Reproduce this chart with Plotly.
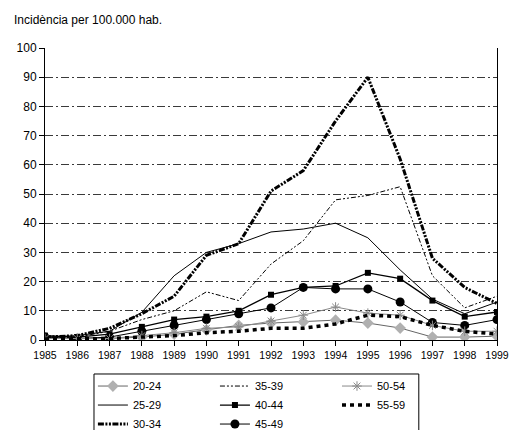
import plotly.graph_objects as go

years = list(range(1985, 2000))

g20_24 = [0.5, 0.5, 0.5, 1, 2, 3.5, 5, 5.8, 6.2, 6.8, 5.8, 4.1, 1, 1, 1.3]
g25_29 = [1, 1.5, 3, 9.5, 22, 30, 33, 37, 38, 40, 35, 24, 14, 9, 13]
g30_34 = [1, 1.5, 4, 9, 15, 29, 33, 51, 58, 75, 90, 62, 28, 18, 12.5]
g35_39 = [0.5, 1, 3, 7, 10, 16.5, 13.5, 26, 34, 48, 49.5, 52.5, 22, 11, 15]
g40_44 = [1.5, 1, 2, 4.5, 7, 8, 10, 15.5, 18, 18.5, 23, 21, 13.5, 8, 9.6]
g45_49 = [1, 0.5, 1, 3, 5, 7, 9, 11, 18, 17.5, 17.5, 13, 6, 5, 7]
g50_54 = [0.5, 0.5, 0.5, 1.5, 2.5, 4, 4.5, 6.5, 8.5, 11.3, 9.2, 8.5, 5, 3, 3]
g55_59 = [0.3, 0.3, 0.5, 1, 1.5, 2.5, 3, 4, 4, 5.5, 8.5, 8, 5, 3, 2]

y_ticks = list(range(0, 101, 10))

FONT = "Arial, Liberation Sans, sans-serif"

fig = go.Figure()

def add(name, y, legend, line, mode="lines", marker=None):
    kw = dict(x=years, y=y, name=name, mode=mode, line=line, legend=legend)
    if marker:
        kw["marker"] = marker
    fig.add_trace(go.Scatter(**kw))

# column 1
add("20-24", g20_24, "legend", dict(color="#666666", width=1), "lines+markers",
    dict(symbol="diamond", size=9, color="#b0b0b0"))
add("25-29", g25_29, "legend", dict(color="black", width=1))
add("30-34", g30_34, "legend", dict(color="black", width=3, dash="6px,1.5px,2px,1.5px,2px,1.5px"))
# column 2
add("35-39", g35_39, "legend2", dict(color="black", width=1, dash="5px,2px,2px,2px,2px,2px"))
add("40-44", g40_44, "legend2", dict(color="black", width=1.3), "lines+markers",
    dict(symbol="square", size=6, color="black"))
add("45-49", g45_49, "legend2", dict(color="black", width=1), "lines+markers",
    dict(symbol="circle", size=9, color="black"))
# column 3
add("50-54", g50_54, "legend3", dict(color="#8a8a8a", width=1), "lines+markers",
    dict(symbol="asterisk-open", size=8, color="#8a8a8a", line=dict(color="#8a8a8a", width=1)))
add("55-59", g55_59, "legend3", dict(color="black", width=3.5, dash="4px,4px"))

leg_common = dict(bgcolor="rgba(0,0,0,0)", borderwidth=0, font=dict(family=FONT, size=11, color="black"),
                  orientation="v", yanchor="top", xanchor="left", tracegroupgap=0)

fig.update_layout(
    width=509, height=430,
    margin=dict(l=45, r=12, t=48, b=90, autoexpand=False),
    paper_bgcolor="white", plot_bgcolor="white",
    font=dict(family=FONT, color="black"),
    showlegend=True,
    legend=dict(x=0.106, y=-0.108, **leg_common),
    legend2=dict(x=0.376, y=-0.108, **leg_common),
    legend3=dict(x=0.646, y=-0.108, **leg_common),
    xaxis=dict(range=[1985, 1999], tickmode="array", tickvals=years,
               ticktext=[str(v) for v in years],
               showgrid=False, showline=True, linecolor="black", linewidth=1,
               ticks="outside", ticklen=5, tickcolor="black",
               tickfont=dict(size=10.5, family=FONT, color="black"), zeroline=False),
    yaxis=dict(range=[0, 100], tickmode="array", tickvals=y_ticks,
               showgrid=True, gridcolor="#3a3a3a", gridwidth=1.3, griddash="8px,3px,2px,3px",
               showline=True, linecolor="black", linewidth=1, mirror=True,
               ticks="outside", ticklen=5, tickcolor="black",
               tickfont=dict(size=12, family=FONT, color="black"), zeroline=False),
    annotations=[dict(text="Incidència per 100.000 hab.", xref="paper", yref="paper",
                      x=-0.073, y=1.096, xanchor="left", yanchor="middle", showarrow=False,
                      font=dict(size=12, family=FONT, color="black"))],
    shapes=[dict(type="rect", xref="paper", yref="paper", x0=0.1084, x1=0.827,
                 y0=-0.1164, y1=-0.36, line=dict(color="black", width=1))],
)

fig.write_html("out.html", config={"displayModeBar": False},
               post_script="document.body.style.margin='0px';")
